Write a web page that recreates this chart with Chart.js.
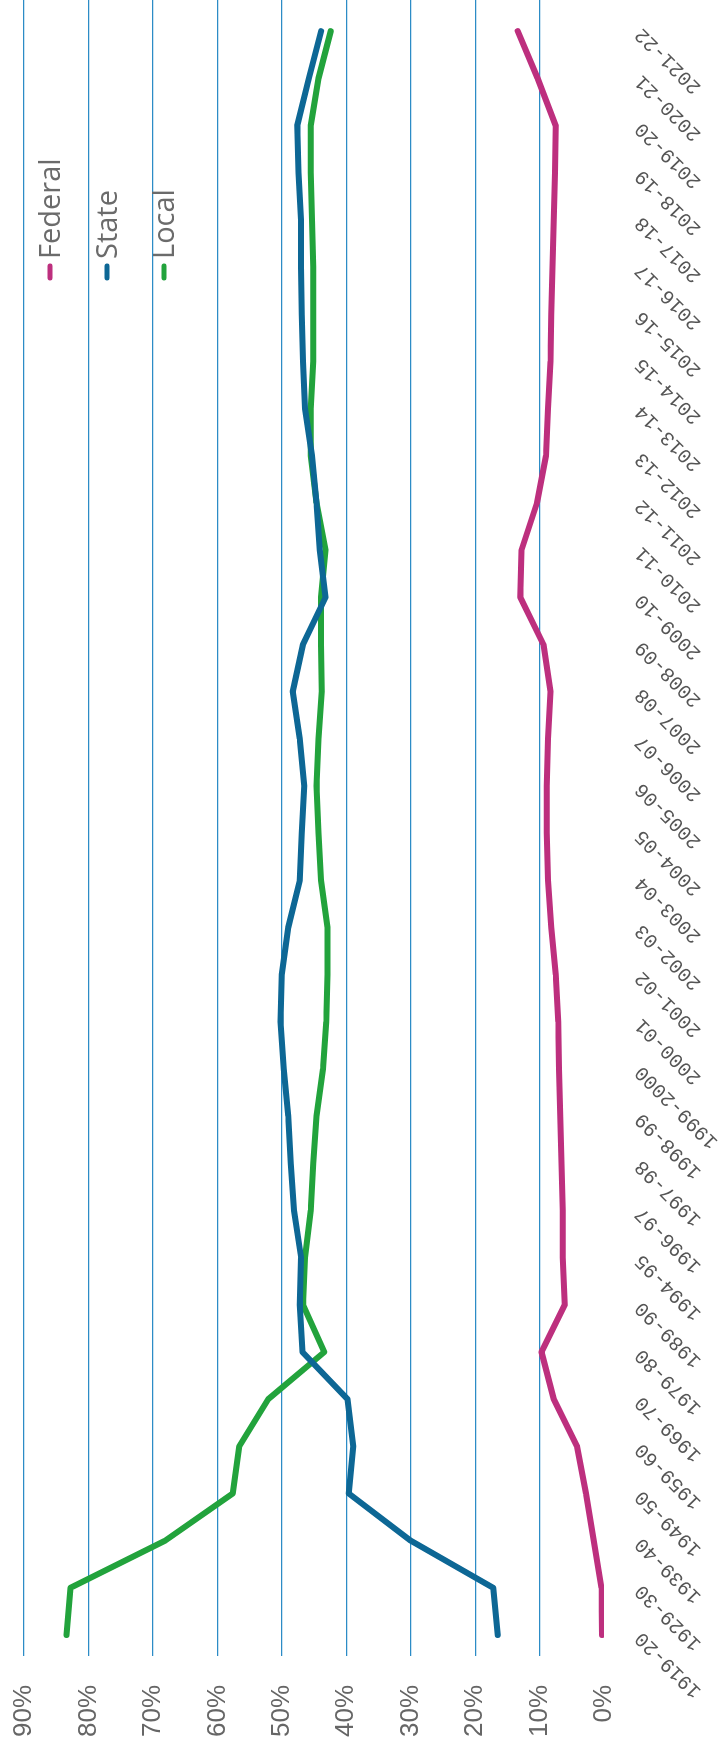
<!DOCTYPE html>
<html>
<head>
<meta charset="utf-8">
<script src="https://cdn.jsdelivr.net/npm/chart.js@4/dist/chart.umd.min.js"></script>
<style>
  html, body { margin: 0; padding: 0; background: #fff; width: 722px; height: 1752px; overflow: hidden; }
  /* The chart is laid out landscape and turned a quarter turn to stand upright on the page */
  #wrap { position: absolute; left: 0; top: 0; width: 1752px; height: 722px;
          transform-origin: 0 0; transform: translateY(1752px) rotate(-90deg); }
  canvas { display: block; }
</style>
</head>
<body>
<div id="wrap"><canvas id="c" width="1752" height="722"></canvas></div>
<script>
// School years shown along the time axis
const years = [
  '1919-20', '1929-30', '1939-40', '1949-50', '1959-60', '1969-70', '1979-80', '1989-90',
  '1994-95', '1996-97', '1997-98', '1998-99', '1999-2000', '2000-01', '2001-02', '2002-03',
  '2003-04', '2004-05', '2005-06', '2006-07', '2007-08', '2008-09', '2009-10', '2010-11',
  '2011-12', '2012-13', '2013-14', '2014-15', '2015-16', '2016-17', '2017-18', '2018-19',
  '2019-20', '2020-21', '2021-22'
];

// Share of revenue by source, percent
const federal = [0.3, 0.4, 1.6, 2.8, 4.2, 7.8, 9.7, 6.1, 6.4, 6.4, 6.6, 6.8, 7.0, 7.1, 7.5, 8.2,
                 8.7, 8.9, 8.9, 8.7, 8.3, 9.4, 13.0, 12.8, 10.4, 9.0, 8.7, 8.3, 8.2, 8.0, 7.8, 7.6,
                 7.5, 10.3, 13.4];
const state   = [16.5, 17.2, 30.0, 39.6, 38.9, 39.8, 46.8, 47.2, 47.0, 48.1, 48.6, 49.0, 49.7, 50.2, 50.0, 49.0,
                 47.2, 46.9, 46.5, 47.2, 48.3, 46.7, 43.2, 44.1, 44.6, 45.3, 46.4, 46.7, 46.9, 47.0, 47.0, 47.4,
                 47.6, 45.8, 43.9];
const local   = [83.4, 82.8, 68.1, 57.6, 56.6, 52.1, 43.4, 46.7, 46.4, 45.5, 45.1, 44.6, 43.6, 43.1, 42.9, 42.9,
                 43.9, 44.3, 44.6, 44.3, 43.8, 43.9, 43.9, 43.2, 44.6, 45.5, 45.5, 45.1, 45.1, 45.1, 45.3, 45.5,
                 45.5, 44.3, 42.4];

const percentTicks = [0, 10, 20, 30, 40, 50, 60, 70, 80, 90];
const seriesNames = ['Federal', 'State', 'Local'];
const seriesColors = ['#bd2f7e', '#0d6795', '#22a33c'];

const toPoints = arr => arr.map((v, i) => ({ x: i, y: v }));

// Legend drawn inside the plot area, stacked, with a short stroke before each name
const insideLegend = {
  id: 'insideLegend',
  afterDatasetsDraw(chart) {
    const ctx = chart.ctx;
    ctx.save();
    ctx.font = '29px "Open Sans"';
    ctx.textBaseline = 'alphabetic';
    ctx.textAlign = 'left';
    chart.data.datasets.forEach((ds, i) => {
      const base = 60 + i * 57;
      ctx.strokeStyle = ds.borderColor;
      ctx.lineWidth = 5;
      ctx.lineCap = 'round';
      ctx.beginPath();
      ctx.moveTo(1474, base - 10);
      ctx.lineTo(1486, base - 10);
      ctx.stroke();
      ctx.fillStyle = '#6b6b6b';
      ctx.fillText(ds.label, 1493, base);
    });
    ctx.restore();
  }
};

const lineStyle = {
  borderWidth: 6,
  pointRadius: 0,
  tension: 0,
  borderCapStyle: 'round',
  borderJoinStyle: 'round',
  fill: false
};

new Chart(document.getElementById('c'), {
  type: 'line',
  data: {
    datasets: [
      Object.assign({ label: seriesNames[0], data: toPoints(federal), borderColor: seriesColors[0] }, lineStyle),
      Object.assign({ label: seriesNames[1], data: toPoints(state), borderColor: seriesColors[1] }, lineStyle),
      Object.assign({ label: seriesNames[2], data: toPoints(local), borderColor: seriesColors[2] }, lineStyle)
    ]
  },
  options: {
    responsive: false,
    animation: false,
    devicePixelRatio: 1,
    layout: { padding: { top: 24, right: 0, left: 0, bottom: 0 } },
    plugins: { legend: { display: false }, tooltip: { enabled: false } },
    scales: {
      x: {
        type: 'linear',
        min: -0.445,
        max: 34.66,
        afterBuildTicks: s => { s.ticks = years.map((_, i) => ({ value: i })); },
        afterFit: s => { s.height = 118; s.paddingLeft = 0; s.paddingRight = 0; },
        grid: { display: false, drawTicks: false },
        border: { display: false },
        ticks: {
          autoSkip: false,
          minRotation: 45,
          maxRotation: 45,
          padding: 26,
          color: '#555',
          font: { family: '"Liberation Mono"', size: 20 },
          callback: (v) => years[Math.round(v)]
        }
      },
      y: {
        min: 0,
        max: 90,
        afterBuildTicks: s => { s.ticks = percentTicks.map(v => ({ value: v })); },
        afterFit: s => { s.width = 96; s.paddingTop = 0; s.paddingBottom = 0; },
        grid: {
          drawTicks: false,
          lineWidth: 1.2,
          color: c => (c.tick && c.tick.value === 0) ? 'rgba(0,0,0,0)' : '#2c8cc6'
        },
        border: { display: false },
        ticks: {
          padding: 29,
          color: '#666',
          font: { family: '"Liberation Sans"', size: 26 },
          callback: v => v + '%'
        }
      }
    }
  },
  plugins: [insideLegend]
});
</script>
</body>
</html>
